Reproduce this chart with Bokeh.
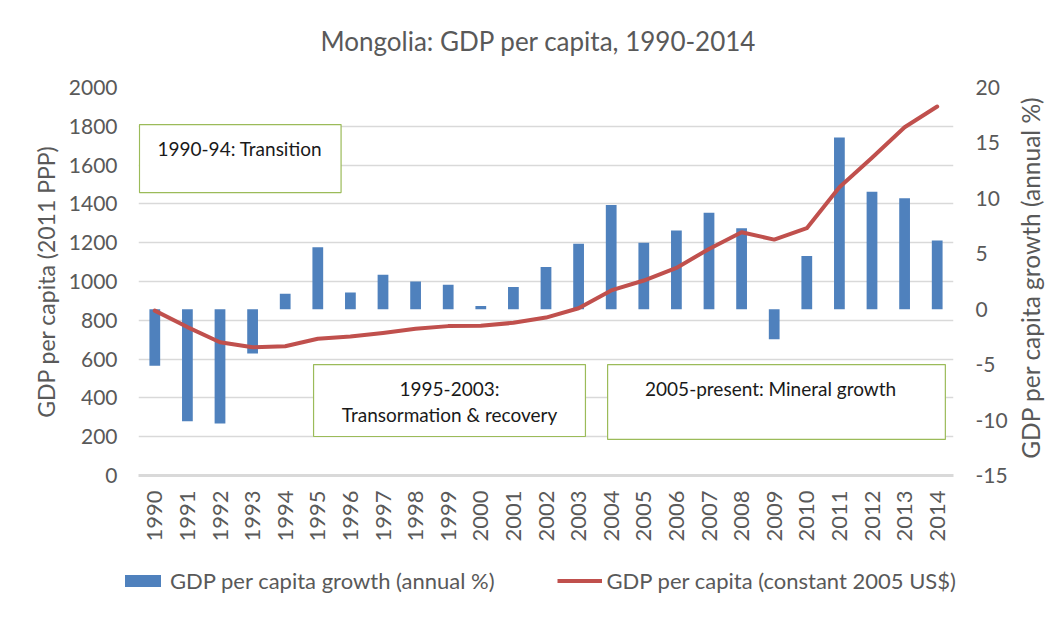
import math
from bokeh.plotting import figure
from bokeh.layouts import row, column
from bokeh.models import (Range1d, LinearAxis, FixedTicker, BoxAnnotation, Label,
                          Legend, LegendItem, FactorRange, ColumnDataSource)
from bokeh.embed import file_html
from bokeh.resources import INLINE

years = ["1990", "1991", "1992", "1993", "1994", "1995", "1996", "1997", "1998", "1999",
         "2000", "2001", "2002", "2003", "2004", "2005", "2006", "2007", "2008", "2009",
         "2010", "2011", "2012", "2013", "2014"]
growth = [-5.1, -10.1, -10.3, -4.0, 1.4, 5.6, 1.5, 3.1, 2.5, 2.2,
          0.3, 2.0, 3.8, 5.9, 9.4, 6.0, 7.1, 8.7, 7.3, -2.7,
          4.8, 15.5, 10.6, 10.0, 6.2]
gdp = [850, 765, 687, 661, 666, 705, 716, 735, 756, 770,
       772, 787, 814, 862, 954, 1005, 1070, 1168, 1254, 1216,
       1275, 1486, 1638, 1795, 1902]
left_ticks = [0, 200, 400, 600, 800, 1000, 1200, 1400, 1600, 1800, 2000]
right_ticks = [-15, -10, -5, 0, 5, 10, 15, 20]

FONT = "Lato"
GREY = "#595959"
BLUE = "#4F81BD"
RED = "#C0504D"
GRID = "#D9D9D9"
GREEN = "#9BBB59"

src = ColumnDataSource(dict(year=years, growth=growth, gdp=gdp))

def strip(w, h, xr, yr, **kw):
    f = figure(frame_width=w, frame_height=h, x_range=xr, y_range=yr,
               output_backend="svg", toolbar_location=None,
               x_axis_location=None, y_axis_location=None, **kw)
    f.grid.visible = False
    f.outline_line_color = None
    f.border_fill_color = "white"
    f.background_fill_color = "white"
    return f

TOP_H = 72
# ---------------- title strip ----------------
p0 = strip(1047, TOP_H, Range1d(0, 1047), Range1d(0, TOP_H),
           min_border_left=0, min_border_right=0, min_border_top=0, min_border_bottom=0)
p0.add_layout(Label(x=320, y=TOP_H - 40, text="Mongolia: GDP per capita, 1990-2014",
                    text_font=FONT, text_font_size="26px", text_color=GREY,
                    text_align="left", text_baseline="middle"))

# ---------------- main chart ----------------
p = figure(x_range=FactorRange(factors=years), y_range=Range1d(0, 2000),
           frame_width=815, frame_height=388,
           min_border_left=138, min_border_right=60, min_border_top=15, min_border_bottom=85,
           output_backend="svg", toolbar_location=None)
p.outline_line_color = None
p.background_fill_color = "white"
p.border_fill_color = "white"

p.extra_y_ranges = {"g": Range1d(-15, 20)}

la = p.yaxis[0]
la.ticker = FixedTicker(ticks=left_ticks)
la.axis_label = "GDP per capita (2011 PPP)"

ra = LinearAxis(y_range_name="g", ticker=FixedTicker(ticks=right_ticks))
ra.major_label_overrides = {t: str(t) for t in right_ticks}
p.add_layout(ra, "right")

for ax in [la, ra]:
    ax.axis_line_color = None
    ax.major_tick_line_color = None
    ax.minor_tick_line_color = None
    ax.major_tick_out = 0
    ax.major_tick_in = 0
    ax.major_label_text_font = FONT
    ax.major_label_text_font_size = "21px"
    ax.major_label_text_color = GREY
    ax.axis_label_text_font = FONT
    ax.axis_label_text_font_size = "23px"
    ax.axis_label_text_font_style = "normal"
    ax.axis_label_text_color = GREY
la.major_label_standoff = 21
la.axis_label_standoff = 6
ra.major_label_standoff = 22

xa = p.xaxis[0]
xa.axis_line_color = GRID
xa.axis_line_width = 3
xa.major_tick_line_color = None
xa.minor_tick_line_color = None
xa.major_tick_out = 0
xa.major_label_orientation = math.pi / 2
xa.major_label_standoff = 15
xa.major_label_text_font = FONT
xa.major_label_text_font_size = "22px"
xa.major_label_text_color = GREY

p.xgrid.visible = False
p.ygrid.grid_line_color = GRID
p.ygrid.grid_line_width = 1.5

bars = p.vbar(x="year", top="growth", bottom=0, width=0.33, source=src,
              y_range_name="g", fill_color=BLUE, line_color=None)
line = p.line(x="year", y="gdp", source=src, line_color=RED, line_width=4,
              line_join="round", line_cap="round")

# annotation boxes
p.add_layout(Label(x=0.03, y=1809, text="1990-94: Transition", text_font=FONT,
                   text_font_size="19px", text_color="#1a1a1a", text_align="left",
                   text_baseline="top", background_fill_color="white",
                   border_line_color=GREEN, border_line_width=1.2,
                   padding=dict(left=18, right=19, top=12, bottom=33)))
boxes = [(5.37, 13.71, 572, 201), (14.39, 24.75, 572, 186)]
for l, r, t, b in boxes:
    p.add_layout(BoxAnnotation(left=l, right=r, top=t, bottom=b, fill_color="white",
                               fill_alpha=1, line_color=GREEN, line_width=1.2,
                               line_alpha=1))

def lab(x, y, text, align):
    p.add_layout(Label(x=x, y=y, text=text, text_font=FONT, text_font_size="19px",
                       text_color="#1a1a1a", text_align=align, text_baseline="middle"))

lab(9.54, 448, "1995-2003:", "center")
lab(9.54, 314, "Transormation & recovery", "center")
lab(19.39, 448, "2005-present: Mineral growth", "center")

# ---------------- right-hand axis title (reads bottom-to-top) ----------------
p2 = strip(34, 388, Range1d(0, 1), Range1d(0, 388),
           min_border_left=0, min_border_right=0, min_border_top=15, min_border_bottom=85)
p2.add_layout(Label(x=0.5, y=388 - (277 - 87), text="GDP per capita growth (annual %)",
                    angle=math.pi / 2, text_font=FONT, text_font_size="24.5px",
                    text_color=GREY, text_align="center", text_baseline="middle"))

# ---------------- legend strip ----------------
p3 = strip(1047, 52, FactorRange(factors=years), Range1d(5000, 5001),
           min_border_left=0, min_border_right=0, min_border_top=0, min_border_bottom=0)
leg_bar = p3.vbar(x="year", top="growth", bottom=0, width=0.33, source=src,
                  fill_color=BLUE, line_color=None)
leg_line = p3.line(x="year", y="gdp", source=src, line_color=RED, line_width=4)
legend = Legend(items=[LegendItem(label="GDP per capita growth (annual %)", renderers=[leg_bar]),
                       LegendItem(label="GDP per capita (constant 2005 US$)", renderers=[leg_line])],
                orientation="horizontal", location=(120, 18),
                glyph_width=45, glyph_height=15, label_standoff=5, spacing=62,
                padding=0, margin=0, border_line_color=None, background_fill_alpha=0,
                label_text_font=FONT, label_text_font_size="22px", label_text_color=GREY)
p3.add_layout(legend)

layout = column(p0, row(p, p2, spacing=0), p3, spacing=0)
open("out.html", "w").write(file_html(layout, INLINE))
